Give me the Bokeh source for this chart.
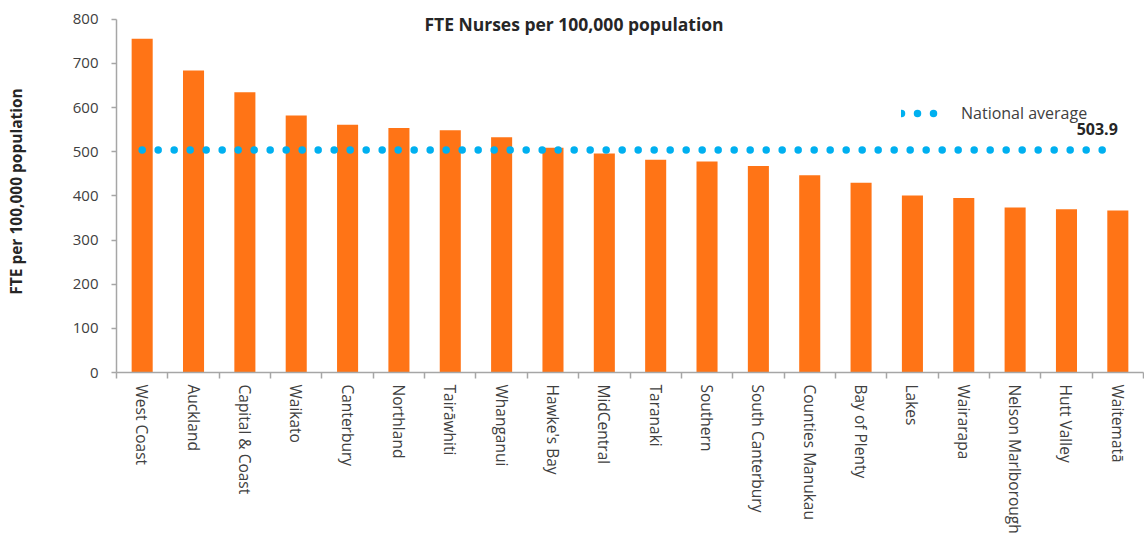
from bokeh.plotting import figure
from bokeh.models import (ColumnDataSource, Range1d, LinearAxis, FixedTicker, Label, Legend,
                          LegendItem)
from bokeh.core.properties import value
from bokeh.embed import file_html
from bokeh.resources import INLINE

# ---- data ----
regions = ["West Coast", "Auckland", "Capital & Coast", "Waikato", "Canterbury", "Northland",
           "Tairāwhiti", "Whanganui", "Hawke's Bay", "MidCentral", "Taranaki", "Southern",
           "South Canterbury", "Counties Manukau", "Bay of Plenty", "Lakes", "Wairarapa",
           "Nelson Marlborough", "Hutt Valley", "Waitematā"]
fte_per_100k = [756, 684, 635, 582, 561, 554, 549, 533, 509, 496, 482, 478, 468, 447, 430,
                401, 395, 374, 370, 367]
national_average = 503.9
y_ticks = [0, 100, 200, 300, 400, 500, 600, 700, 800]

title_text = "FTE Nurses per 100,000 population"
y_label = "FTE per 100,000 population"
legend_label = "National average"

FONT = "Open Sans"
BAR = "#FF7416"
DOT = "#00B0F0"
AXIS = "#A6A6A6"
TXT = "#404040"

n = len(regions)
idx = list(range(n))

p = figure(x_range=Range1d(-0.5, n - 0.5), y_range=Range1d(0, 820),
           frame_width=1027, frame_height=362, output_backend="svg", toolbar_location=None,
           x_axis_location=None, min_border_left=116, min_border_right=1,
           min_border_top=10, min_border_bottom=150)
p.outline_line_color = None
p.grid.grid_line_color = None
p.background_fill_color = "white"

src = ColumnDataSource(dict(x=idx, value=fte_per_100k, region=regions))
p.vbar(x="x", top="value", width=0.41, source=src, fill_color=BAR, line_color=None)

avg_src = ColumnDataSource(dict(x=[idx[0], idx[-1]], y=[national_average] * 2))
avg = p.line(x="x", y="y", source=avg_src, line_color=DOT, line_width=7.5,
             line_dash="0 16", line_cap="round")

lab_src = ColumnDataSource(dict(x=[idx[-1]], y=[national_average], t=[f"{national_average:.1f}"]))
p.text(x="x", y="y", text="t", source=lab_src, text_align="right", text_baseline="middle",
       y_offset=-21, x_offset=0, text_font=value(FONT), text_font_style="bold",
       text_font_size="16px", text_color="#262626")

# y axis
yax = p.yaxis[0]
yax.ticker = FixedTicker(ticks=y_ticks)
yax.bounds = (0, 800)
yax.minor_tick_line_color = None
yax.major_tick_in = 0
yax.major_tick_out = 5
yax.major_label_standoff = 13
yax.axis_line_color = AXIS
yax.axis_line_width = 1.5
yax.major_tick_line_color = AXIS
yax.major_tick_line_width = 1.5
yax.major_label_text_font = FONT
yax.major_label_text_font_size = "15px"
yax.major_label_text_color = TXT
yax.axis_label = y_label
yax.axis_label_text_font = FONT
yax.axis_label_text_font_size = "15.5px"
yax.axis_label_text_font_style = "bold"
yax.axis_label_text_color = "#262626"
yax.axis_label_standoff = 43

# x axis: tick marks between categories
sep_ax = LinearAxis(ticker=FixedTicker(ticks=[i - 0.5 for i in range(n + 1)]))
sep_ax.axis_line_color = AXIS
sep_ax.axis_line_width = 1.5
sep_ax.major_tick_line_color = AXIS
sep_ax.major_tick_line_width = 1.5
sep_ax.major_tick_in = 0
sep_ax.major_tick_out = 6
sep_ax.minor_tick_line_color = None
sep_ax.major_label_text_alpha = 0
sep_ax.major_label_text_font_size = "1px"
sep_ax.major_label_standoff = 0
p.add_layout(sep_ax, "below")

# x axis: category names
cat_ax = LinearAxis(ticker=FixedTicker(ticks=idx),
                    major_label_overrides={i: r for i, r in zip(idx, regions)})
cat_ax.axis_line_color = None
cat_ax.major_tick_line_color = None
cat_ax.minor_tick_line_color = None
cat_ax.major_tick_out = 0
cat_ax.major_tick_in = 0
cat_ax.major_label_orientation = "vertical"
cat_ax.major_label_standoff = 6
cat_ax.major_label_text_font = FONT
cat_ax.major_label_text_font_size = "15.5px"
cat_ax.major_label_text_color = TXT
p.add_layout(cat_ax, "below")

# title inside plot area
p.add_layout(Label(x=457.5, y=348.5, x_units="screen", y_units="screen", text=title_text,
                   text_align="center", text_baseline="middle", text_font=FONT,
                   text_font_size="17.5px", text_font_style="bold", text_color="#262626"))

legend = Legend(items=[LegendItem(label=legend_label, renderers=[avg])],
                location=(785, 248), orientation="vertical",
                glyph_width=48, glyph_height=20, label_standoff=12, padding=0, margin=0,
                border_line_color=None, background_fill_alpha=0,
                label_text_font=FONT, label_text_font_size="16px", label_text_color=TXT)
p.add_layout(legend, "center")

open("out.html", "w").write(file_html(p, INLINE))
